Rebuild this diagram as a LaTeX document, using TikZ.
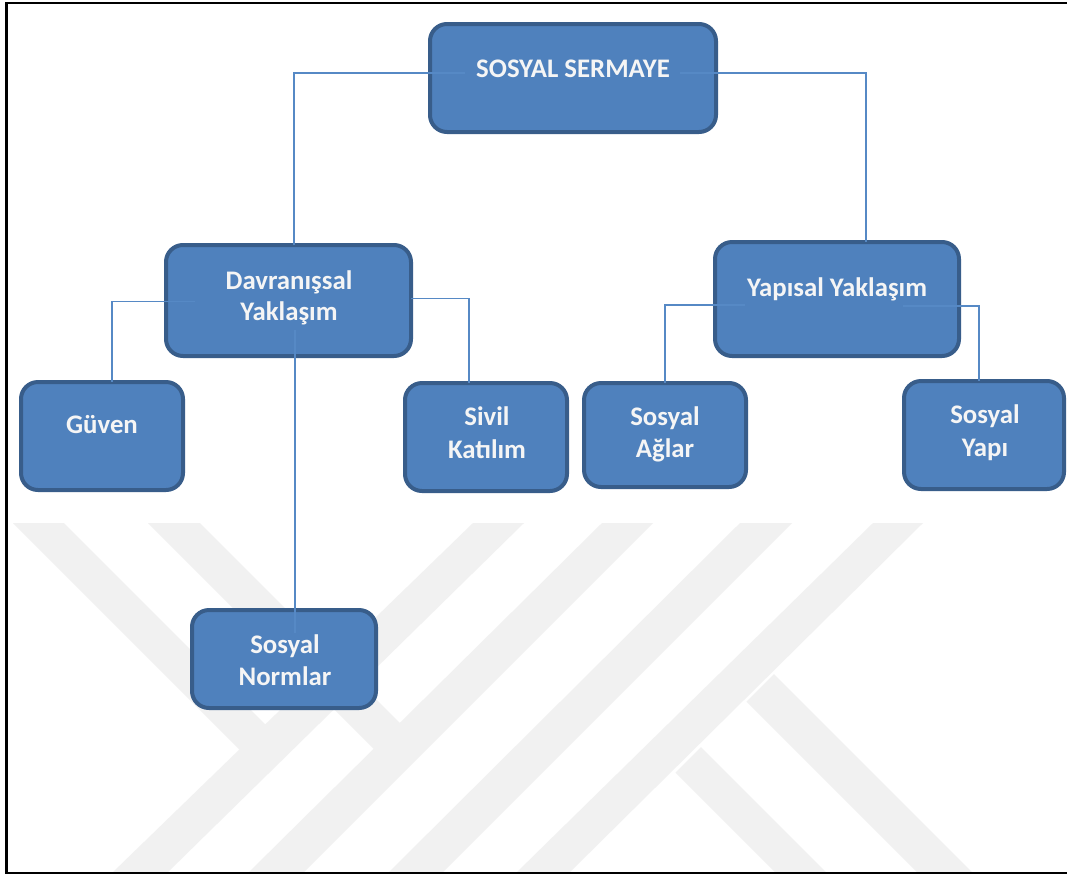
\documentclass[tikz,border=0pt]{standalone}
\usepackage{fontspec}
\setmainfont{Carlito}
\usetikzlibrary{calc}

\definecolor{boxfill}{RGB}{79,129,189}
\definecolor{boxline}{RGB}{56,93,138}
\definecolor{connline}{RGB}{86,137,197}
\definecolor{wmgray}{RGB}{241,241,241}
\definecolor{lbltext}{RGB}{245,245,245}

\tikzset{
  box/.style={rounded corners=17pt, fill=boxfill, draw=boxline, line width=4pt,
              inner sep=0pt, outer sep=0pt},
  conn/.style={draw=connline, line width=1.8pt},
  lbl/.style={font=\bfseries\fontsize{26.8}{32}\selectfont, text=lbltext,
              inner sep=0pt, anchor=base},
  wm/.style={fill=wmgray, draw=none}
}

\begin{document}
\begin{tikzpicture}[x=1pt, y=-1pt]
\useasboundingbox (0,0) rectangle (1067,876);
\fill[white] (0,0) rectangle (1067,876);

% faint background emblem: a doubled Y and a doubled K made of slanted bands
\fill[wm] (13,523) -- (64,523) -- (290.5,749.5) -- (239.5,749.5) -- cycle;
\fill[wm] (473,523) -- (524,523) -- (167,873) -- (112,873) -- cycle;
\fill[wm] (148,523) -- (200,523) -- (425.3,748.3) -- (373.8,748.8) -- cycle;
\fill[wm] (602,523) -- (653,523) -- (303,873) -- (248,873) -- cycle;
\fill[wm] (740,523) -- (792,523) -- (442,873) -- (388,873) -- cycle;
\fill[wm] (873,523) -- (923,523) -- (569,873) -- (516,873) -- cycle;
\fill[wm] (774,674) -- (973,873) -- (918,873) -- (746.5,701.5) -- cycle;
\fill[wm] (701,747) -- (827,873) -- (776,873) -- (675.5,772.5) -- cycle;

% outer frame (open on the right)
\draw[line width=2.7pt, line join=miter] (1070,2.9) -- (6.2,2.9) -- (6.2,873) -- (1070,873);

% boxes
\node[box, minimum width=286pt, minimum height=108pt] (root) at (573,78) {};
\node[box, minimum width=245pt, minimum height=111pt] (dav) at (288.5,300.5) {};
\node[box, minimum width=244pt, minimum height=114pt] (yap) at (837,299) {};
\node[box, minimum width=162pt, minimum height=108pt] (guv) at (102,436) {};
\node[box, minimum width=162pt, minimum height=108pt] (siv) at (486,437) {};
\node[box, minimum width=162pt, minimum height=104pt] (agl) at (665,435) {};
\node[box, minimum width=160pt, minimum height=108pt] (ypi) at (984,435) {};
\node[box, minimum width=184pt, minimum height=98pt] (nrm) at (284,659) {};

% elbow connectors
\draw[conn] ($(root.center)+(-108,-5)$) -| ($(dav.north)+(5.5,0)$);
\draw[conn] ($(root.center)+(107,-5)$) -| ($(yap.north)+(29,0)$);
\draw[conn] ($(dav.center)+(-93.5,1)$) -| ($(guv.north)+(9.7,0)$);
\draw[conn] ($(dav.east)+(0,-2)$) -| ($(siv.north)+(-17,0)$);
\draw[conn] ($(dav.center)+(6.5,29.5)$) -- ($(nrm.center)+(11,-26)$);
\draw[conn] ($(yap.center)+(-92,6)$) -| (agl.north);
\draw[conn] ($(yap.center)+(66,7)$) -| ($(ypi.north)+(-5,0)$);

% labels
\node[lbl] (t-root) at (573,77.7) {SOSYAL SERMAYE};
\node[lbl] (t-dav1) at (289,289.3) {Davranışsal};
\node[lbl] (t-dav2) at (289,320.7) {Yaklaşım};
\node[lbl] (t-yap) at (837,296.7) {Yapısal Yaklaşım};
\node[lbl] (t-guv) at (102,433.3) {Güven};
\node[lbl] (t-siv1) at (487,425) {Sivil};
\node[lbl] (t-siv2) at (487,458) {Katılım};
\node[lbl] (t-agl1) at (665,425) {Sosyal};
\node[lbl] (t-agl2) at (665,457.7) {Ağlar};
\node[lbl] (t-ypi1) at (985,423.3) {Sosyal};
\node[lbl] (t-ypi2) at (985,456) {Yapı};
\node[lbl] (t-nrm1) at (285,653.3) {Sosyal};
\node[lbl] (t-nrm2) at (285,685) {Normlar};
\end{tikzpicture}
\end{document}
